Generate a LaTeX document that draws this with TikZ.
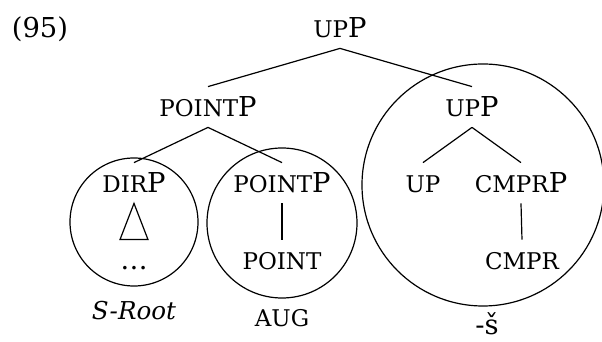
\documentclass[tikz,border=0pt]{standalone}
\usepackage{fontspec}
\setmainfont{DejaVu Serif}
\usetikzlibrary{calc}
\newcommand{\smc}[1]{{\fontsize{11.5}{13}\selectfont #1}}
\tikzset{
  cat/.style={inner xsep=1pt, inner ysep=5pt, text height=10pt, text depth=0pt,
              font=\fontsize{13.7}{16}\selectfont},
  branch/.style={line width=0.6pt},
  ring/.style={circle, draw, line width=0.6pt, minimum size=#1, inner sep=0pt},
  tag/.style={anchor=base, inner sep=0pt, font=\fontsize{13.7}{16}\selectfont},
}

\begin{document}
\begin{tikzpicture}[x=0.5pt, y=-0.5pt]
  \useasboundingbox (0,0) rectangle (602,342);
  % example number
  \node[cat] (exnum) at (40,28) {(95)};

  % top of the tree
  \node[cat] (upp) at (340,28) {\smc{UP}P};
  \node[cat] (pointp) at (208,107) {\smc{POINT}P};
  \node[cat] (uppr) at (472,107) {\smc{UP}P};
  \draw[branch] (upp.south) -- (pointp.north);
  \draw[branch] (upp.south) -- (uppr.north);

  % left part
  \node[cat] (dirp) at (134,183) {\smc{DIR}P};
  \node[cat] (pointpl) at (282,183) {\smc{POINT}P};
  \draw[branch] (pointp.south) -- (dirp.north);
  \draw[branch] (pointp.south) -- (pointpl.north);
  \node[cat] (dots) at (134,260) {\ldots};
  \draw[branch] (dirp.south) -- ($(dots.north)+(-14,0)$) -- ($(dots.north)+(14,0)$) -- cycle;
  \node[cat] (point) at (282,260) {\smc{POINT}};
  \draw[branch] (pointpl.south) -- (point.north);

  % right part
  \node[cat] (up) at (423,183) {\smc{UP}};
  \node[cat] (cmprp) at (521,183) {\smc{CMPR}P};
  \draw[branch] (uppr.south) -- (up.north);
  \draw[branch] (uppr.south) -- (cmprp.north);
  \node[cat] (cmpr) at (522,260) {\smc{CMPR}};
  \draw[branch] (cmprp.south) -- (cmpr.north);

  % circles
  \node[ring=64pt] (dirring) at (134,222) {};
  \node[ring=75pt] (pointring) at (282,223) {};
  \node[ring=121pt] (upring) at (483,185) {};

  % exponents
  \node[tag, font=\fontsize{12.3}{15}\selectfont\itshape] (sroot) at (134,320) {S-Root};
  \node[tag] (aug) at (282,327) {\smc{AUG}};
  \node[tag] (shsuffix) at (487,335) {-š};
\end{tikzpicture}
\end{document}
